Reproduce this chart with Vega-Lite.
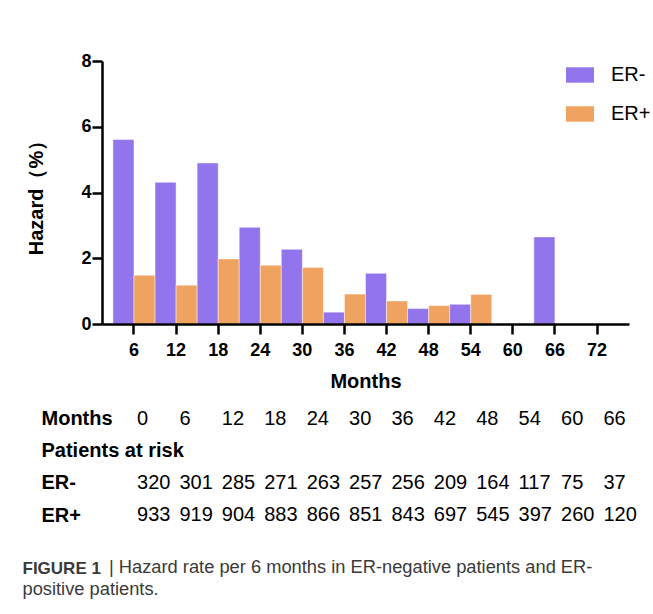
{
  "$schema": "https://vega.github.io/schema/vega-lite/v6.json",
  "background": "white",
  "padding": {"left": 22, "top": 52, "right": 2, "bottom": 2},
  "bounds": "flush",
  "spacing": 40,
  "config": {
    "font": "Liberation Sans",
    "view": {"stroke": null},
    "axis": {
      "domainColor": "black",
      "domainWidth": 2.5,
      "tickColor": "black",
      "tickWidth": 2.5,
      "tickSize": 10,
      "labelColor": "black",
      "titleColor": "black",
      "labelFont": "Liberation Sans",
      "titleFont": "Liberation Sans",
      "labelFontWeight": "bold",
      "titleFontWeight": "bold",
      "labelFontSize": 18,
      "titleFontSize": 20,
      "grid": false
    }
  },
  "datasets": {
    "hazard": [
      {"month": 6, "group": "ER-", "hazard": 5.61},
      {"month": 6, "group": "ER+", "hazard": 1.48},
      {"month": 12, "group": "ER-", "hazard": 4.31},
      {"month": 12, "group": "ER+", "hazard": 1.18},
      {"month": 18, "group": "ER-", "hazard": 4.90},
      {"month": 18, "group": "ER+", "hazard": 1.98},
      {"month": 24, "group": "ER-", "hazard": 2.94},
      {"month": 24, "group": "ER+", "hazard": 1.79},
      {"month": 30, "group": "ER-", "hazard": 2.27},
      {"month": 30, "group": "ER+", "hazard": 1.72},
      {"month": 36, "group": "ER-", "hazard": 0.36},
      {"month": 36, "group": "ER+", "hazard": 0.91},
      {"month": 42, "group": "ER-", "hazard": 1.54},
      {"month": 42, "group": "ER+", "hazard": 0.70},
      {"month": 48, "group": "ER-", "hazard": 0.47},
      {"month": 48, "group": "ER+", "hazard": 0.56},
      {"month": 54, "group": "ER-", "hazard": 0.60},
      {"month": 54, "group": "ER+", "hazard": 0.90},
      {"month": 66, "group": "ER-", "hazard": 2.65}
    ],
    "risk": [
      {"row": "Months", "month": 0, "text": "0"},
      {"row": "Months", "month": 6, "text": "6"},
      {"row": "Months", "month": 12, "text": "12"},
      {"row": "Months", "month": 18, "text": "18"},
      {"row": "Months", "month": 24, "text": "24"},
      {"row": "Months", "month": 30, "text": "30"},
      {"row": "Months", "month": 36, "text": "36"},
      {"row": "Months", "month": 42, "text": "42"},
      {"row": "Months", "month": 48, "text": "48"},
      {"row": "Months", "month": 54, "text": "54"},
      {"row": "Months", "month": 60, "text": "60"},
      {"row": "Months", "month": 66, "text": "66"},
      {"row": "ER-", "month": 0, "text": "320"},
      {"row": "ER-", "month": 6, "text": "301"},
      {"row": "ER-", "month": 12, "text": "285"},
      {"row": "ER-", "month": 18, "text": "271"},
      {"row": "ER-", "month": 24, "text": "263"},
      {"row": "ER-", "month": 30, "text": "257"},
      {"row": "ER-", "month": 36, "text": "256"},
      {"row": "ER-", "month": 42, "text": "209"},
      {"row": "ER-", "month": 48, "text": "164"},
      {"row": "ER-", "month": 54, "text": "117"},
      {"row": "ER-", "month": 60, "text": "75"},
      {"row": "ER-", "month": 66, "text": "37"},
      {"row": "ER+", "month": 0, "text": "933"},
      {"row": "ER+", "month": 6, "text": "919"},
      {"row": "ER+", "month": 12, "text": "904"},
      {"row": "ER+", "month": 18, "text": "883"},
      {"row": "ER+", "month": 24, "text": "866"},
      {"row": "ER+", "month": 30, "text": "851"},
      {"row": "ER+", "month": 36, "text": "843"},
      {"row": "ER+", "month": 42, "text": "697"},
      {"row": "ER+", "month": 48, "text": "545"},
      {"row": "ER+", "month": 54, "text": "397"},
      {"row": "ER+", "month": 60, "text": "260"},
      {"row": "ER+", "month": 66, "text": "120"}
    ],
    "caption": [
      {"line": "FIGURE 1", "rest": "|  Hazard rate per 6 months in ER-negative patients and ER-"},
      {"line": "positive patients.", "rest": ""}
    ]
  },
  "vconcat": [
    {
      "width": 527,
      "height": 263,
      "data": {"name": "hazard"},
      "mark": {"type": "bar", "stroke": "white", "strokeWidth": 1, "strokeOpacity": 0.45},
      "encoding": {
        "x": {
          "field": "month",
          "type": "ordinal",
          "scale": {"domain": [6, 12, 18, 24, 30, 36, 42, 48, 54, 60, 66, 72], "paddingInner": 0, "paddingOuter": 0.26},
          "axis": {"title": "Months", "labelAngle": 0, "labelPadding": 7, "titlePadding": 12, "zindex": 2}
        },
        "xOffset": {
          "field": "group",
          "type": "nominal",
          "scale": {"domain": ["ER-", "ER+"], "paddingInner": 0, "paddingOuter": 0}
        },
        "y": {
          "field": "hazard",
          "type": "quantitative",
          "scale": {"domain": [0, 8], "nice": false},
          "axis": {"title": "Hazard（%）", "values": [0, 2, 4, 6, 8], "labelPadding": 1, "titlePadding": 34, "zindex": 2}
        },
        "color": {
          "field": "group",
          "type": "nominal",
          "scale": {"domain": ["ER-", "ER+"], "range": ["#9274ED", "#F0A261"]},
          "legend": {
            "orient": "none",
            "legendX": 464,
            "legendY": 0,
            "title": null,
            "padding": 0,
            "symbolType": "M-1,-0.55L1,-0.55L1,0.55L-1,0.55Z",
            "symbolSize": 784,
            "symbolStrokeWidth": 0,
            "symbolOpacity": 1,
            "labelFontSize": 20,
            "labelFont": "Liberation Sans",
            "labelColor": "black",
            "labelOffset": 17,
            "rowPadding": 15
          }
        }
      }
    },
    {
      "width": 527,
      "height": 151,
      "data": {"name": "risk"},
      "mark": {"type": "text", "align": "left", "baseline": "middle", "fontSize": 20, "font": "Liberation Sans", "color": "black"},
      "encoding": {
        "x": {
          "field": "month",
          "type": "ordinal",
          "scale": {"type": "point", "padding": 0.715, "align": 0.578},
          "axis": null
        },
        "y": {
          "field": "row",
          "type": "nominal",
          "scale": {"type": "point", "domain": ["Months", "Patients at risk", "ER-", "ER+"], "padding": 0.859, "align": 1},
          "axis": {
            "title": null,
            "domain": false,
            "ticks": false,
            "tickSize": 0,
            "labelAlign": "left",
            "labelPadding": 61,
            "labelFontSize": 20,
            "labelFontWeight": "bold",
            "labelLimit": 0
          }
        },
        "text": {"field": "text", "type": "nominal"}
      }
    },
    {
      "width": 10,
      "height": 48,
      "data": {"name": "caption"},
      "mark": {"type": "text", "align": "left", "baseline": "middle", "dx": 2, "fontSize": 18.3, "font": "Liberation Sans", "color": "#3a3a3a"},
      "encoding": {
        "y": {
          "field": "line",
          "type": "nominal",
          "scale": {"type": "point", "domain": ["FIGURE 1", "positive patients."], "padding": 0.591},
          "axis": {
            "title": null,
            "domain": false,
            "ticks": false,
            "tickSize": 0,
            "labelAlign": "left",
            "labelPadding": 80,
            "labelFontSize": {"condition": {"test": "datum.value === 'FIGURE 1'", "value": 17}, "value": 18.3},
            "labelColor": "#3a3a3a",
            "labelFontWeight": {"condition": {"test": "datum.value === 'FIGURE 1'", "value": "bold"}, "value": "normal"},
            "labelLimit": 0
          }
        },
        "text": {"field": "rest", "type": "nominal"}
      }
    }
  ]
}
